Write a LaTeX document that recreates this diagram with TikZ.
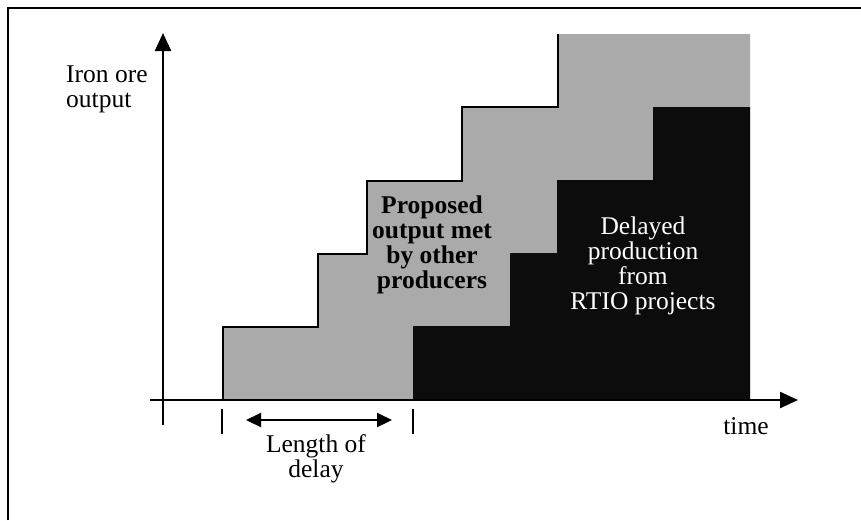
\documentclass[tikz,border=0pt]{standalone}
\usepackage{fontspec}
\setmainfont{Liberation Serif}
\usetikzlibrary{arrows.meta}
\definecolor{supplygrey}{HTML}{AAAAAA}
\definecolor{rtioblack}{HTML}{0C0C0C}
\begin{document}
\begin{tikzpicture}[x=1pt,y=-1pt,
  axis/.style={line width=2.4pt,-{Triangle[length=18pt,width=16pt]}},
  tickmark/.style={line width=2pt},
  span/.style={line width=2.2pt,{Triangle[length=15pt,width=14pt]}-{Triangle[length=15pt,width=14pt]}},
  lbl/.style={inner sep=0pt,font=\fontsize{25.5}{25}\selectfont,align=center},
  outline/.style={line width=2.2pt,line join=miter}]
\useasboundingbox (0,0) rectangle (861,520);

% frame
\draw[line width=2pt] (8,520) -- (8,8) -- (861,8);

% output met by other producers (grey staircase)
\fill[supplygrey] (223,400) -- (223,327) -- (318,327) -- (318,254) -- (367,254)
  -- (367,181) -- (462,181) -- (462,107) -- (558,107) -- (558,34) -- (750,34)
  -- (750,400) -- cycle;
\draw[outline] (223,400) -- (223,327) -- (318,327) -- (318,254) -- (367,254)
  -- (367,181) -- (462,181) -- (462,107) -- (558,107) -- (558,34);

% delayed RTIO production (same staircase shifted right)
\fill[rtioblack] (413,400) -- (413,326) -- (510,326) -- (510,253) -- (557,253)
  -- (557,180) -- (653,180) -- (653,107) -- (750,107) -- (750,400) -- cycle;

% axes
\coordinate (ybot) at (163,425);
\coordinate (ytop) at (163,33);
\coordinate (xleft) at (150,400);
\coordinate (xright) at (798,400);
\draw[axis] (ybot) -- (ytop);
\draw[axis] (xleft) -- (xright);

% delay markers
\coordinate (t1a) at (222,409);
\coordinate (t1b) at (222,434);
\coordinate (t2a) at (413,409);
\coordinate (t2b) at (413,434);
\draw[tickmark] (t1a) -- (t1b);
\draw[tickmark] (t2a) -- (t2b);
\coordinate (dl) at (246,420);
\coordinate (dr) at (392,420);
\draw[span] (dl) -- (dr);

% labels
\node[lbl,align=left,anchor=west] (ylab) at (66,89) {Iron ore\\output};
\node[lbl] (xlab) at (746,426) {time};
\node[lbl] (delay) at (316,459) {Length of\\delay};
\node[lbl,font=\fontsize{25.5}{25}\selectfont\bfseries] (others) at (432,245)
  {Proposed\\output met\\by other\\producers};
\node[lbl,text=white] (rtio) at (643,266)
  {Delayed\\production\\from\\RTIO projects};
\end{tikzpicture}
\end{document}
